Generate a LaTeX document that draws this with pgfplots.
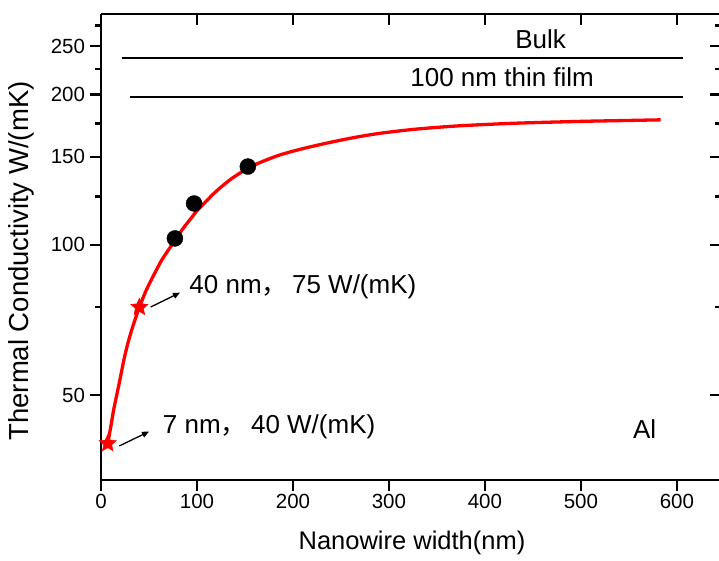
\documentclass[border=0pt]{standalone}
\usepackage{pgfplots}
\pgfplotsset{compat=1.18}
\usepackage{fontspec}
\setmainfont{Liberation Sans}
\newfontfamily\cjk{Noto Sans CJK SC}
\usetikzlibrary{arrows.meta}

% filled five-pointed star mark
\pgfdeclareplotmark{fstar}{%
  \pgfpathmoveto{\pgfpointpolar{90}{\pgfplotmarksize}}%
  \pgfpathlineto{\pgfpointpolar{126}{0.47\pgfplotmarksize}}%
  \pgfpathlineto{\pgfpointpolar{162}{\pgfplotmarksize}}%
  \pgfpathlineto{\pgfpointpolar{198}{0.47\pgfplotmarksize}}%
  \pgfpathlineto{\pgfpointpolar{234}{\pgfplotmarksize}}%
  \pgfpathlineto{\pgfpointpolar{270}{0.47\pgfplotmarksize}}%
  \pgfpathlineto{\pgfpointpolar{306}{\pgfplotmarksize}}%
  \pgfpathlineto{\pgfpointpolar{342}{0.47\pgfplotmarksize}}%
  \pgfpathlineto{\pgfpointpolar{18}{\pgfplotmarksize}}%
  \pgfpathlineto{\pgfpointpolar{54}{0.47\pgfplotmarksize}}%
  \pgfpathclose
  \pgfusepathqfillstroke
}

\newcommand{\annfont}{\fontsize{26}{30}\selectfont}
\newcommand{\tickfont}{\fontsize{20.5}{23}\selectfont}

% logarithmic y scale, done through a coordinate transformation
\pgfplotsset{
  logy/.style={
    y coord trafo/.code={\pgfmathparse{ln(##1)}},
    y coord inv trafo/.code={\pgfmathparse{exp(##1)}},
  }
}

\begin{document}
\begin{tikzpicture}
% top and right spines, ticks pointing inwards
\begin{axis}[
  at={(101pt,80pt)}, anchor=south west,
  scale only axis, width=620pt, height=466pt,
  logy,
  xmin=0, xmax=646, ymin=33.8, ymax=290,
  xtick={0,100,200,300,400,500,600},
  ytick={50,100,150,200,250},
  minor ytick={75,125,175,225,275},
  major tick length=11pt, minor tick length=6pt,
  every tick/.style={black, line width=2.2pt},
  axis line style={line width=2.8pt},
  axis x line*=top, axis y line*=right,
  tick align=inside,
  xticklabels={}, yticklabels={},
]
\end{axis}
% bottom and left spines with the data
\begin{axis}[
  at={(101pt,80pt)}, anchor=south west,
  scale only axis, width=620pt, height=466pt,
  logy,
  xmin=0, xmax=646, ymin=33.8, ymax=290,
  xtick={0,100,200,300,400,500,600},
  ytick={50,100,150,200,250},
  minor ytick={75,125,175,225,275},
  major tick length=11pt, minor tick length=6pt,
  every tick/.style={black, line width=2.2pt},
  axis line style={line width=2.8pt},
  clip=false,
  axis x line*=bottom, axis y line*=left,
  tick align=outside,
  xticklabels={0,100,200,300,400,500,600},
  yticklabels={50,100,150,200,250},
  xticklabel style={font=\tickfont},
  yticklabel style={font=\tickfont, xshift=-1.5pt},
  xlabel={Nanowire width(nm)},
  ylabel={Thermal Conductivity W/(mK)},
  xlabel style={font=\fontsize{25.5}{28}\selectfont,
    at={(axis description cs:0.5016,-0.135)}, anchor=center},
  ylabel style={font=\fontsize{27.5}{30}\selectfont,
    at={(axis description cs:-0.128,0.47)}, anchor=center},
]
% bulk and thin-film reference levels
\addplot[black, line width=2pt] coordinates {(21.6,237) (606,237)};
\addplot[black, line width=2pt] coordinates {(30,198) (606,198)};

% measured nanowires
\addplot[only marks, mark=*, mark size=8pt, black] coordinates {
  (77,103) (97,121) (153,143.5)
};

% model curve
\addplot[red, line width=3.3pt, smooth, tension=0.5] table {
w k
7 40
10 43
13 46.5
16 49.6
20 54
24 59
28 63.5
33 68.5
40 75
47 81
55 87
63 93
70 97.5
77 102
85 107.5
93 112.5
100 117
110 122.5
120 128
134 134.8
145 139.3
153 142.3
165 146
186 151.3
210 155.8
238 160.3
265 164.2
290 167.2
320 169.9
343 171.5
370 173
400 174.2
430 175.2
468 176.1
510 176.9
550 177.5
583 178
};

% highlighted widths
\addplot[only marks, mark=fstar, mark size=9pt, red, line width=0.5pt] coordinates {
  (7,40) (40,75)
};

\draw[-{Triangle[length=7pt,width=6pt]}, line width=1.3pt]
  (axis cs:19.1,39.55) -- (axis cs:50.0,42.25);
\draw[-{Triangle[length=7pt,width=6pt]}, line width=1.3pt]
  (axis cs:51.8,75.07) -- (axis cs:82.3,80.2);

\node[anchor=base west, inner sep=0pt, font=\annfont] at (axis cs:64.3,41.98)
  {7 nm{\cjk ，}\,40 W/(mK)};
\node[anchor=base west, inner sep=0pt, font=\annfont] at (axis cs:92.0,79.9)
  {40 nm{\cjk ，}\,75 W/(mK)};
\node[anchor=base west, inner sep=0pt, font=\annfont] at (axis cs:554.1,41.0) {Al};
\node[anchor=base, inner sep=0pt, font=\annfont] at (axis cs:458,247.4) {Bulk};
\node[anchor=base, inner sep=0pt, font=\annfont] at (axis cs:418,207.2) {100 nm thin film};
\end{axis}
\pgfresetboundingbox
\path[use as bounding box] (0pt,0pt) rectangle (719pt,560pt);
\end{tikzpicture}
\end{document}
